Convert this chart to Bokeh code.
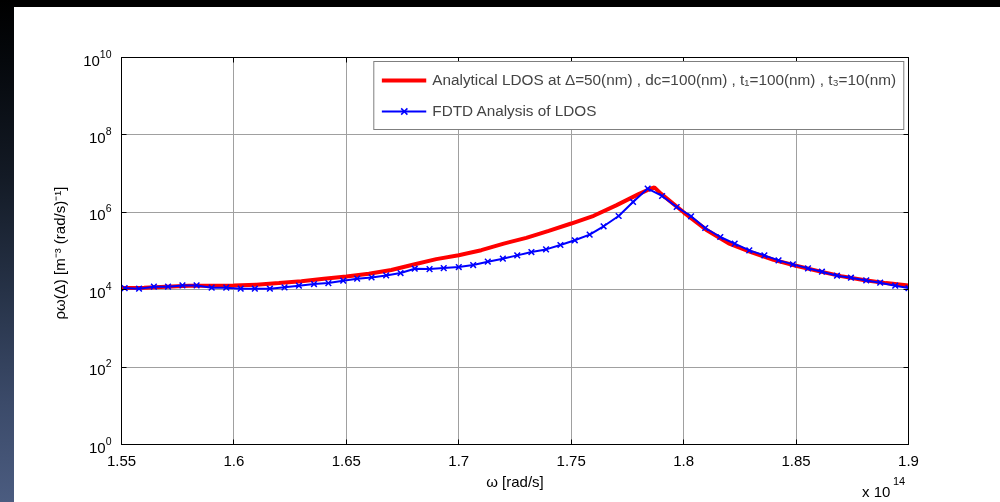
from bokeh.plotting import figure
from bokeh.models import (FixedTicker, LogAxis, LinearAxis, Legend, LegendItem,
                          CustomJSTickFormatter, Range1d, Div)
from bokeh.layouts import column
from bokeh.embed import file_html
from bokeh.resources import INLINE

# ---------------- data (omega in units of 1e14 rad/s) ----------------
omega_analytical = [1.55, 1.56, 1.57, 1.58, 1.59, 1.60, 1.61, 1.62, 1.63, 1.64, 1.65, 1.66,
                    1.67, 1.68, 1.69, 1.70, 1.71, 1.72, 1.73, 1.74, 1.75, 1.76, 1.77, 1.78,
                    1.785, 1.787, 1.79, 1.80, 1.81, 1.82, 1.83, 1.84, 1.85, 1.86, 1.87,
                    1.88, 1.89, 1.90]
ldos_analytical = [1.10e4, 1.12e4, 1.20e4, 1.26e4, 1.26e4, 1.29e4, 1.35e4, 1.48e4, 1.66e4,
                   1.91e4, 2.19e4, 2.57e4, 3.24e4, 4.47e4, 6.17e4, 7.76e4, 1.05e5, 1.55e5,
                   2.19e5, 3.31e5, 5.13e5, 8.13e5, 1.51e6, 2.95e6, 4.0e6, 4.4e6, 3.0e6,
                   1.0e6, 3.55e5, 1.58e5, 9.33e4, 5.89e4, 4.17e4, 3.02e4, 2.24e4, 1.78e4,
                   1.48e4, 1.29e4]

omega_fdtd = [1.5514, 1.5578, 1.5644, 1.5707, 1.5771, 1.5834, 1.5901, 1.5966, 1.6030,
              1.6093, 1.6160, 1.6225, 1.6289, 1.6356, 1.6420, 1.6486, 1.6548, 1.6612,
              1.6677, 1.6741, 1.6804, 1.6870, 1.6933, 1.7000, 1.7064, 1.7129, 1.7196,
              1.7260, 1.7323, 1.7388, 1.7452, 1.7516, 1.7582, 1.7644, 1.7711, 1.7775,
              1.7840, 1.7904, 1.7969, 1.8033, 1.8096, 1.8163, 1.8227, 1.8292, 1.8359,
              1.8422, 1.8486, 1.8553, 1.8615, 1.8682, 1.8744, 1.8812, 1.8874, 1.8941,
              1.9000]
ldos_fdtd = [1.10e4, 1.06e4, 1.20e4, 1.20e4, 1.29e4, 1.29e4, 1.13e4, 1.13e4, 1.06e4,
             1.06e4, 1.06e4, 1.15e4, 1.27e4, 1.40e4, 1.48e4, 1.71e4, 1.93e4, 2.08e4,
             2.34e4, 2.69e4, 3.49e4, 3.41e4, 3.62e4, 3.85e4, 4.33e4, 5.30e4, 6.34e4,
             7.71e4, 9.40e4, 1.10e5, 1.43e5, 1.89e5, 2.65e5, 4.35e5, 8.02e5, 1.85e6,
             4.10e6, 2.64e6, 1.37e6, 7.89e5, 3.93e5, 2.30e5, 1.55e5, 1.04e5, 7.71e4,
             5.73e4, 4.52e4, 3.56e4, 2.92e4, 2.30e4, 2.04e4, 1.74e4, 1.52e4, 1.27e4,
             1.10e4]

x_ticks = [1.55, 1.6, 1.65, 1.7, 1.75, 1.8, 1.85, 1.9]
y_ticks = [1e0, 1e2, 1e4, 1e6, 1e8, 1e10]

label_analytical = "Analytical LDOS at Δ=50(nm) , dc=100(nm) , t₁=100(nm) , t₃=10(nm)"
label_fdtd = "FDTD Analysis of LDOS"
x_label = "ω [rad/s]"
y_label = "ρω(Δ)  [m⁻³ (rad/s)⁻¹]"
scale_base = "x 10"
scale_exp = "14"

FONT = "Liberation Sans"

# ---------------- figure ----------------
p = figure(width=986, height=495,
           x_range=Range1d(1.55, 1.9), y_range=Range1d(1, 1e10),
           y_axis_type="log", output_backend="svg", toolbar_location=None,
           min_border_left=107, min_border_right=92,
           min_border_top=50, min_border_bottom=58)
p.styles = {"position": "fixed", "left": "14px", "top": "7px"}
p.background_fill_color = "white"
p.border_fill_color = "white"
p.outline_line_color = "black"
p.outline_line_width = 1

xt = FixedTicker(ticks=x_ticks, minor_ticks=[])
yt = FixedTicker(ticks=y_ticks, minor_ticks=[])
xfmt = CustomJSTickFormatter(code="return (Math.round(tick*100)/100).toString();")

p.xaxis.ticker = xt
p.xaxis.formatter = xfmt
p.yaxis.ticker = yt
p.xgrid.ticker = xt
p.ygrid.ticker = yt
for g in (p.xgrid, p.ygrid):
    g.grid_line_color = "#a0a0a0"
    g.grid_line_width = 1

for ax in (p.xaxis, p.yaxis):
    ax.axis_line_color = "black"
    ax.major_tick_line_color = "black"
    ax.major_tick_in = 5
    ax.major_tick_out = 0
    ax.minor_tick_line_color = None
    ax.major_label_text_font = FONT
    ax.major_label_text_font_size = "15px"
    ax.major_label_text_color = "black"
    ax.axis_label_text_font = FONT
    ax.axis_label_text_font_size = "15px"
    ax.axis_label_text_font_style = "normal"
    ax.axis_label_text_color = "black"

p.xaxis.axis_label = x_label
p.xaxis.major_label_standoff = 11
p.xaxis.axis_label_standoff = 4
p.yaxis.axis_label = y_label
p.yaxis.major_label_standoff = 10
p.yaxis.axis_label_standoff = 12

blank = CustomJSTickFormatter(code="return '';")
top_ax = LinearAxis(ticker=xt, formatter=blank, major_tick_in=5, major_tick_out=0,
                    minor_tick_line_color=None, axis_line_color="black",
                    major_tick_line_color="black")
right_ax = LogAxis(ticker=yt, formatter=blank, major_tick_in=5, major_tick_out=0,
                   minor_tick_line_color=None, axis_line_color="black",
                   major_tick_line_color="black")
p.add_layout(top_ax, "above")
p.add_layout(right_ax, "right")

# ---------------- data glyphs ----------------
r_red = p.line(omega_analytical, ldos_analytical, line_color="#ff0000", line_width=4)
r_blue = p.line(omega_fdtd, ldos_fdtd, line_color="#0000ff", line_width=2)
r_mark = p.scatter(omega_fdtd, ldos_fdtd, marker="x", size=8, line_color="#0000ff",
                   line_width=1.5)

legend = Legend(items=[LegendItem(label=label_analytical, renderers=[r_red]),
                       LegendItem(label=label_fdtd, renderers=[r_blue, r_mark])],
                location="top_right", margin=4, padding=7, spacing=9,
                glyph_width=45, glyph_height=22, label_height=22, label_standoff=6,
                label_text_font=FONT, label_text_font_size="15.3px",
                border_line_color="black", border_line_width=1,
                background_fill_color="white", background_fill_alpha=1)
p.add_layout(legend, "center")

# ---------------- page background bands and the "x 10^14" scale note ----------------
bands = Div(text=(
    '<div style="position:fixed;left:0;top:0;width:1000px;height:7px;background:#000;z-index:1000;"></div>'
    '<div style="position:fixed;left:0;top:0;width:14px;height:502px;z-index:1000;'
    'background:linear-gradient(to bottom,#000000 0%,#05080c 12%,#131a25 35%,'
    '#263247 58%,#3b4a69 80%,#4b5c80 100%);"></div>'
    '<div style="position:fixed;left:862px;top:484px;font-family:\'Liberation Sans\';z-index:1000;'
    'font-size:15px;line-height:15px;color:#000;white-space:nowrap;">' + scale_base + '</div>'
    '<div style="position:fixed;left:893px;top:476px;font-family:\'Liberation Sans\';z-index:1000;'
    'font-size:11px;line-height:11px;color:#000;white-space:nowrap;">' + scale_exp + '</div>'
), width=1, height=1)
bands.styles = {"position": "relative", "z-index": "1000"}

layout = column(bands, p)

open("out.html", "w").write(file_html(layout, INLINE))
